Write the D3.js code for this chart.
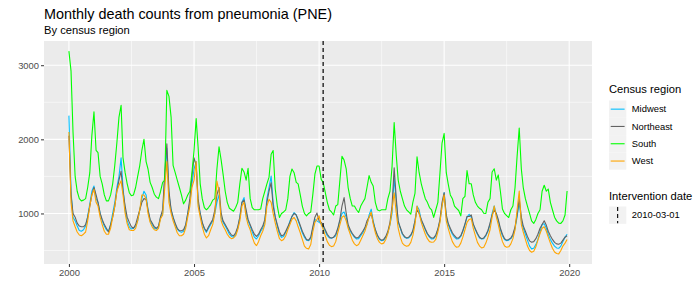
<!DOCTYPE html>
<html>
<head>
<meta charset="utf-8">
<script src="https://cdn.jsdelivr.net/npm/d3@7"></script>
<style>
  body { margin: 0; background: #fff; }
  text { font-family: "Liberation Sans", Arial, sans-serif; }
</style>
</head>
<body>
<div id="chart"></div>
<script>
// Monthly counts, Jan 2000 .. Dec 2019, one row per year (Jan..Dec)
var midwest = [
  2320,1300, 950, 900, 830, 770, 760, 780, 830, 960,1130,1300,
  1370,1200,1150,1000, 900, 830, 780, 760, 850,1000,1150,1350,
  1500,1750,1350,1050, 900, 820, 790, 800, 830, 900,1050,1200,
  1300,1250,1050, 900, 850, 800, 790, 820, 950,1000,1500,1880,
  1250,1050, 950, 850, 790, 760, 745, 760, 830,1000,1150,1400,
  1600,1700,1150,1000, 870, 790, 745, 800, 850, 900,1000,1150,
  1250, 950, 880, 830, 780, 720, 690, 680, 720, 800, 950,1150,
  1214,1000, 900, 830, 750, 680, 656, 700, 760, 800, 900,1200,
  1350,1504,1150, 950, 830, 720, 678, 690, 750, 800, 900, 960,
  1013, 980, 900, 820, 740, 680, 640, 633, 660, 800, 920, 900,
   880, 860, 820, 760, 700, 670, 665, 678, 700, 790, 900,1000,
  1020, 950, 830, 760, 720, 680, 656, 660, 700, 740, 800, 850,
   980,1058, 900, 780, 700, 650, 633, 640, 680, 740, 850,1000,
  1482,1150, 880, 800, 720, 680, 665, 670, 700, 760, 900,1100,
  1050, 900, 850, 780, 720, 680, 656, 660, 700, 780, 900,1100,
  1281, 950, 850, 780, 720, 680, 656, 660, 690, 760, 850, 950,
   990, 950, 850, 780, 720, 670, 656, 660, 700, 760, 850,1000,
  1102, 980, 900, 780, 700, 650, 633, 640, 660, 700, 800, 950,
  1150, 900, 800, 720, 640, 560, 522, 530, 580, 650, 750, 850,
   860, 800, 720, 650, 600, 560, 535, 530, 560, 620, 680, 720
];
var northeast = [
  2050,1250,1000, 950, 870, 830, 820, 820, 850, 950,1100,1250,
  1350,1250,1150,1000, 920, 850, 800, 750, 850, 950,1100,1300,
  1450,1570,1300,1100, 950, 880, 820, 800, 850, 950,1050,1150,
  1200,1190,1050, 920, 870, 820, 800, 830, 960,1050,1550,1940,
  1300,1050, 950, 870, 800, 770, 767, 780, 850,1000,1200,1500,
  1750,1650,1200,1000, 880, 800, 760, 820, 870, 920,1050,1250,
  1350,1000, 900, 850, 800, 750, 710, 700, 740, 820, 950,1150,
  1180,1050, 920, 850, 780, 720, 690, 720, 780, 830, 920,1150,
  1300,1415,1100, 950, 850, 750, 700, 710, 760, 820, 880, 960,
  1000, 980, 920, 840, 760, 700, 650, 640, 680, 820, 950,1005,
   900, 880, 840, 780, 720, 680, 670, 680, 720, 800, 920,1100,
  1214,1000, 850, 780, 730, 690, 670, 680, 720, 760, 810, 900,
   950,1000, 880, 780, 710, 660, 640, 650, 690, 760, 880,1100,
  1616,1200, 900, 810, 730, 690, 670, 680, 710, 770, 900,1050,
  1000, 920, 860, 790, 730, 690, 670, 670, 710, 790, 920,1150,
  1280, 980, 870, 800, 740, 700, 670, 670, 700, 770, 860, 960,
   960, 980, 860, 790, 730, 680, 660, 670, 710, 770, 870, 980,
  1050,1000, 920, 800, 720, 660, 640, 650, 670, 720, 820, 980,
  1200, 950, 830, 760, 690, 630, 611, 620, 660, 720, 800, 850,
   901, 840, 760, 700, 650, 610, 590, 585, 600, 640, 680, 700
];
var south = [
  3190,2920,2100,1500,1300,1200,1170,1180,1200,1350,1550,2050,
  2370,1850,1820,1500,1400,1250,1170,1170,1250,1400,1650,1950,
  2300,2460,1750,1550,1400,1280,1240,1250,1350,1500,1650,1850,
  2000,1700,1600,1420,1350,1260,1220,1200,1300,1420,1450,2660,
  2580,2300,1650,1550,1450,1350,1250,1130,1180,1250,1300,1550,
  1850,2280,1900,1400,1200,1080,1050,1080,1120,1180,1200,1600,
  1900,1720,1530,1300,1150,1070,1050,1030,1080,1150,1400,1610,
  1560,1450,1610,1200,1080,1050,1050,1050,1060,1200,1300,1400,
  1490,1800,1850,1330,1100, 946,1000,1020,1050,1200,1500,1600,
  1550,1420,1400,1250,1100,1000, 968,1000,1020,1250,1530,1640,
  1640,1460,1420,1285,1150,1050,1020, 980,1100,1120,1450,1770,
  1720,1600,1350,1200,1100,1100,1050,1013,1100,1150,1200,1350,
  1510,1420,1370,1150,1050,1035,1050,1050,1050,1200,1300,1630,
  2227,1780,1450,1300,1200,1100,1050,1020, 990,1150,1270,1764,
  1550,1400,1300,1200,1150,1080,1050, 946,1050,1150,1550,1950,
  2080,1550,1400,1250,1200,1100,1070,1040, 968,1200,1230,1580,
  1400,1400,1250,1150,1100,1070,1050,1004,1000,1150,1200,1560,
  1603,1450,1520,1300,1060,1000, 970, 946,1050,1100,1350,1770,
  2152,1600,1350,1200,1100,1000, 900, 866, 920,1000,1050,1300,
  1380,1300,1330,1150,1050, 950, 900, 870, 866, 900, 980,1303
];
var west = [
  2100,1150, 900, 820, 750, 710, 700, 720, 750, 900,1100,1250,
  1325,1150,1100, 950, 850, 760, 720, 720, 800, 950,1100,1300,
  1380,1440,1250,1000, 860, 780, 770, 770, 800, 900,1050,1250,
  1250,1200,1000, 880, 820, 780, 770, 800, 930, 980,1350,1700,
  1150,1000, 900, 820, 740, 700, 700, 720, 800, 950,1100,1350,
  1450,1700,1100, 950, 820, 720, 670, 700, 780, 850,1000,1437,
  1300, 900, 830, 780, 720, 680, 660, 670, 700, 780, 900,1100,
  1150, 950, 850, 780, 680, 600, 566, 620, 700, 760, 850,1100,
  1190,1150,1000, 870, 760, 660, 633, 650, 700, 780, 850, 920,
   946, 900, 820, 740, 650, 560, 530, 522, 580, 750, 880, 920,
   968, 850, 790, 700, 620, 570, 553, 560, 620, 740, 850, 950,
   968, 900, 800, 720, 640, 590, 566, 580, 640, 700, 760, 850,
   950,1020, 860, 740, 660, 610, 589, 600, 650, 730, 850,1050,
  1280,1000, 800, 680, 600, 570, 558, 566, 610, 700, 850,1100,
  1000, 880, 800, 720, 660, 620, 611, 615, 650, 750, 880,1100,
  1250, 900, 800, 700, 620, 570, 544, 550, 600, 680, 780, 880,
   920, 930, 800, 700, 610, 560, 535, 545, 600, 680, 780, 950,
  1100, 950, 850, 720, 620, 560, 544, 550, 590, 660, 780,1050,
  1303, 850, 750, 650, 560, 500, 477, 490, 550, 640, 730, 800,
   820, 760, 680, 600, 530, 480, 460, 455, 500, 560, 600, 650
];

var regions = ["Midwest", "Northeast", "South", "West"];
var regionColors = ["#00BFFF", "#636363", "#00FF00", "#FFA500"];
var xTickYears = [2000, 2005, 2010, 2015, 2020];
var yTicks = [1000, 2000, 3000];
var yMinorTicks = [500, 1500, 2500];
var interventionDate = "2010-03-01";

var width = 700, height = 300;
var panel = { left: 44, top: 41, right: 592, bottom: 264 };

var months = d3.timeMonth.range(new Date(2000, 0, 1), new Date(2020, 0, 1));
var seriesValues = [midwest, northeast, south, west];
var series = regions.map(function (r, i) {
    return { name: r, color: regionColors[i],
             values: seriesValues[i].map(function (v, j) { return { date: months[j], value: v }; }) };
});

// ggplot-like 5% expansion
var t0 = months[0].getTime(), t1 = months[months.length - 1].getTime();
var tPad = (t1 - t0) * 0.05;
var x = d3.scaleTime()
    .domain([new Date(t0 - tPad), new Date(t1 + tPad)])
    .range([panel.left, panel.right]);

var allVals = [].concat(midwest, northeast, south, west);
var vMin = d3.min(allVals), vMax = d3.max(allVals);
var vPad = (vMax - vMin) * 0.05;
var y = d3.scaleLinear()
    .domain([vMin - vPad, vMax + vPad])
    .range([panel.bottom, panel.top]);

var svg = d3.select("#chart").append("svg")
    .attr("width", width)
    .attr("height", height);

svg.append("rect")
    .attr("x", panel.left).attr("y", panel.top)
    .attr("width", panel.right - panel.left)
    .attr("height", panel.bottom - panel.top)
    .attr("fill", "#EBEBEB");

var xMajor = xTickYears.map(function (yr) { return new Date(yr, 0, 1); });
var xMinor = [];
for (var i = 0; i < xMajor.length - 1; i++) {
    xMinor.push(new Date((xMajor[i].getTime() + xMajor[i + 1].getTime()) / 2));
}

var grid = svg.append("g");
grid.selectAll(".ymin").data(yMinorTicks).enter().append("line")
    .attr("x1", panel.left).attr("x2", panel.right)
    .attr("y1", d => y(d)).attr("y2", d => y(d))
    .attr("stroke", "#fff").attr("stroke-width", 0.55);
grid.selectAll(".xmin").data(xMinor).enter().append("line")
    .attr("y1", panel.top).attr("y2", panel.bottom)
    .attr("x1", d => x(d)).attr("x2", d => x(d))
    .attr("stroke", "#fff").attr("stroke-width", 0.55);
grid.selectAll(".ymaj").data(yTicks).enter().append("line")
    .attr("x1", panel.left).attr("x2", panel.right)
    .attr("y1", d => y(d)).attr("y2", d => y(d))
    .attr("stroke", "#fff").attr("stroke-width", 1.1);
grid.selectAll(".xmaj").data(xMajor).enter().append("line")
    .attr("y1", panel.top).attr("y2", panel.bottom)
    .attr("x1", d => x(d)).attr("x2", d => x(d))
    .attr("stroke", "#fff").attr("stroke-width", 1.1);

var line = d3.line()
    .x(d => x(d.date))
    .y(d => y(d.value));

svg.append("g").selectAll("path")
    .data(series)
    .enter().append("path")
    .attr("d", d => line(d.values))
    .attr("fill", "none")
    .attr("stroke", d => d.color)
    .attr("stroke-width", 1.1)
    .attr("stroke-linejoin", "round");

var iv = d3.timeParse("%Y-%m-%d")(interventionDate);
svg.append("line")
    .attr("x1", x(iv)).attr("x2", x(iv))
    .attr("y1", panel.top).attr("y2", panel.bottom)
    .attr("stroke", "#000").attr("stroke-width", 1.2)
    .attr("stroke-dasharray", "4,3");

// Axes
var xAxis = d3.axisBottom(x).tickValues(xMajor).tickFormat(d3.timeFormat("%Y")).tickSize(3).tickPadding(2);
var gx = svg.append("g").attr("transform", "translate(0," + panel.bottom + ")").call(xAxis);
var yAxis = d3.axisLeft(y).tickValues(yTicks).tickSize(3).tickPadding(2).tickFormat(d3.format("d"));
var gy = svg.append("g").attr("transform", "translate(" + panel.left + ",0)").call(yAxis);
[gx, gy].forEach(function (g) {
    g.select(".domain").remove();
    g.selectAll(".tick line").attr("stroke", "#333333");
    g.selectAll(".tick text").attr("fill", "#4D4D4D").style("font-size", "9.4px")
        .style("font-family", "'Liberation Sans', Arial, sans-serif");
});

// Titles
svg.append("text").attr("x", 44).attr("y", 19)
    .style("font-size", "14.4px").attr("fill", "#000")
    .text("Monthly death counts from pneumonia (PNE)");
svg.append("text").attr("x", 44).attr("y", 33.5)
    .style("font-size", "11.2px").attr("fill", "#000")
    .text("By census region");

// Legend: census region
var lgX = 609, keyW = 17.3;
svg.append("text").attr("x", lgX).attr("y", 93)
    .style("font-size", "11.2px").text("Census region");
var lg = svg.append("g").selectAll("g").data(series).enter().append("g")
    .attr("transform", (d, i) => "translate(" + lgX + "," + (100.5 + i * keyW) + ")");
lg.append("rect").attr("width", keyW).attr("height", keyW).attr("fill", "#F2F2F2");
lg.append("line").attr("x1", 1.7).attr("x2", keyW - 1.7)
    .attr("y1", keyW / 2).attr("y2", keyW / 2)
    .attr("stroke", d => d.color).attr("stroke-width", 1.1);
lg.append("text").attr("x", keyW + 5.5).attr("y", keyW / 2).attr("dy", "0.35em")
    .style("font-size", "9.4px").attr("fill", "#000").text(d => d.name);

// Legend: intervention date
svg.append("text").attr("x", lgX).attr("y", 200)
    .style("font-size", "11.2px").text("Intervention date");
var ig = svg.append("g").attr("transform", "translate(" + lgX + ",206.5)");
ig.append("rect").attr("width", keyW).attr("height", keyW).attr("fill", "#F2F2F2");
ig.append("line").attr("x1", keyW / 2).attr("x2", keyW / 2)
    .attr("y1", 0.5).attr("y2", keyW - 0.5)
    .attr("stroke", "#000").attr("stroke-width", 1.1).attr("stroke-dasharray", "4,3");
ig.append("text").attr("x", keyW + 5.5).attr("y", keyW / 2).attr("dy", "0.35em")
    .style("font-size", "9.4px").text(interventionDate);
</script>
</body>
</html>
